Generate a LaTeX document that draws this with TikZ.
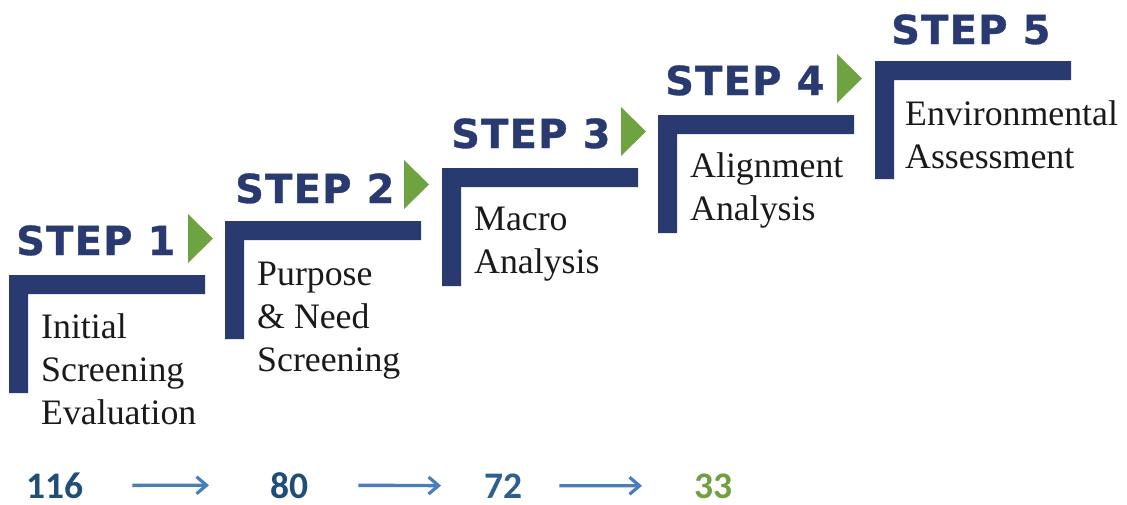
\documentclass[tikz,border=0pt]{standalone}
\usepackage{fontspec}
\setmainfont{Liberation Serif}
\newfontfamily\stepfont{DejaVu Sans}[LetterSpace=3,BoldFeatures={FakeBold=0.8}]
\newfontfamily\numfont{Carlito}
\usetikzlibrary{arrows.meta}
\definecolor{navy}{HTML}{283A70}
\definecolor{leaf}{HTML}{6FA240}
\definecolor{numblue}{HTML}{1F4E79}
\definecolor{numblue2}{HTML}{2E5F8F}
\definecolor{numgreen}{HTML}{70A040}
\definecolor{arrblue}{HTML}{4A7EBB}
\definecolor{txt}{HTML}{1A1A1A}
\newcommand\mylines[1]{\vtop{\baselineskip=43pt #1}}
\tikzset{
  lbar/.pic={\fill[navy] (0,0) -- (196,0) -- (196,19) -- (19,19) -- (19,118) -- (0,118) -- cycle;},
  gtri/.pic={\fill[leaf] (179,-61) -- (204,-36.5) -- (179,-12) -- cycle;},
  steplabel/.style={anchor=base west, inner sep=0pt, text=navy, font=\stepfont\bfseries\fontsize{40}{40}\selectfont},
  desc/.style={anchor=base west, inner sep=0pt, text=txt, font=\fontsize{35.8}{43}\selectfont},
  num/.style={anchor=base west, inner sep=0pt, font=\numfont\bfseries\fontsize{37.5}{37.5}\selectfont},
  arr/.style={draw=arrblue, line width=3.4pt, -{Straight Barb[length=10pt,width=17pt,line width=3.2pt]}}
}
\begin{document}
\begin{tikzpicture}[x=1pt,y=-1pt]
\useasboundingbox (0,0) rectangle (1127,504);
% step 1
\pic (bar1) at (9,275) {lbar};
\pic (tri1) at (9,275) {gtri};
\node[steplabel] (s1) at (16,255) {STEP 1};
\node[desc] (d1) at (41,338) {\mylines{\hbox{Initial}\hbox{Screening}\hbox{Evaluation}}};
% step 2
\pic (bar2) at (225,221) {lbar};
\pic (tri2) at (225,221) {gtri};
\node[steplabel] (s2) at (235,203) {STEP 2};
\node[desc] (d2) at (257,285) {\mylines{\hbox{Purpose}\hbox{\& Need}\hbox{Screening}}};
% step 3
\pic (bar3) at (442,168) {lbar};
\pic (tri3) at (442,168) {gtri};
\node[steplabel] (s3) at (451,148) {STEP 3};
\node[desc] (d3) at (474,230) {\mylines{\hbox{Macro}\hbox{Analysis}}};
% step 4
\pic (bar4) at (658,115) {lbar};
\pic (tri4) at (658,115) {gtri};
\node[steplabel] (s4) at (665,95) {STEP 4};
\node[desc] (d4) at (690,177) {\mylines{\hbox{Alignment}\hbox{Analysis}}};
% step 5
\pic (bar5) at (875,61) {lbar};
\node[steplabel] (s5) at (891,44) {STEP 5};
\node[desc] (d5) at (905,125) {\mylines{\hbox{Environmental}\hbox{Assessment}}};
% numbers
\node[num, text=numblue] (n1) at (26,498) {116};
\node[num, text=numblue] (n2) at (270,498) {80};
\node[num, text=numblue2] (n3) at (484,498) {72};
\node[num, text=numgreen] (n4) at (694,498) {33};
\draw[arr, shorten <=49pt, shorten >=61pt] (n1.east) -- (n2.west);
\draw[arr, shorten <=50pt, shorten >=43pt] (n2.east) -- (n3.west);
\draw[arr, shorten <=37pt, shorten >=52pt] (n3.east) -- (n4.west);
\end{tikzpicture}
\end{document}
